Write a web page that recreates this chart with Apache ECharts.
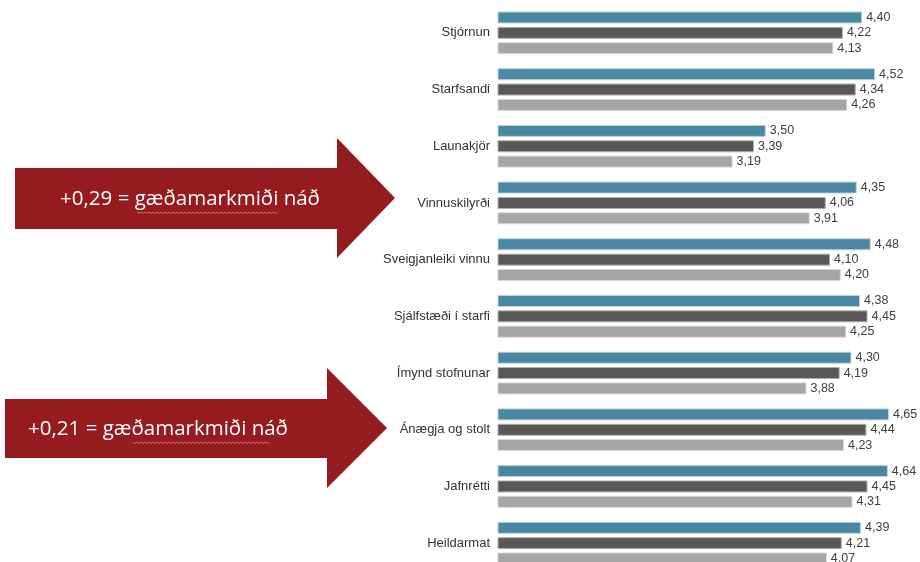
<!DOCTYPE html>
<html><head><meta charset="utf-8">
<script src="https://cdn.jsdelivr.net/npm/echarts@6/dist/echarts.min.js"></script>
<style>html,body{margin:0;padding:0;background:#fff}#c{width:920px;height:562px}</style>
</head><body><div id="c"></div>
<script>
var categories = ['Stjórnun','Starfsandi','Launakjör','Vinnuskilyrði','Sveigjanleiki vinnu','Sjálfstæði í starfi','Ímynd stofnunar','Ánægja og stolt','Jafnrétti','Heildarmat'];
var seriesA = [4.40,4.52,3.50,4.35,4.48,4.38,4.30,4.65,4.64,4.39];
var seriesB = [4.22,4.34,3.39,4.06,4.10,4.45,4.19,4.44,4.45,4.21];
var seriesC = [4.13,4.26,3.19,3.91,4.20,4.25,3.88,4.23,4.31,4.07];
var arrowTexts = ['+0,29 = gæðamarkmiði náð','+0,21 = gæðamarkmiði náð'];

var chart = echarts.init(document.getElementById('c'));
var lbl = {show:true,position:'right',distance:4,color:'#404040',fontSize:12.5,fontFamily:'Liberation Sans, Arial',
  formatter:function(p){return p.value.toFixed(2).replace('.',',');}};
function mk(name,data,color,border){
  return {name:name,type:'bar',data:data,barWidth:12,barGap:'28%',clip:true,
    itemStyle:{color:color,borderColor:border,borderWidth:1},label:lbl,silent:true};
}
function arrow(x0,yTop,yBot,hx,hTop,hBot,tip){
  return [[x0,yTop],[hx,yTop],[hx,hTop],[tip,(hTop+hBot)/2],[hx,hBot],[hx,yBot],[x0,yBot]];
}
function wavy(x1,x2,y){
  var pts=[];for(var x=x1,i=0;x<=x2;x+=2,i++){pts.push([x,y+(i%2?1.5:0)]);}return pts;
}
chart.setOption({
  animation:false,
  grid:{left:498,right:0,top:32.85,bottom:18.85,containLabel:false},
  xAxis:{type:'value',min:1,max:4.94,show:false},
  yAxis:{type:'category',data:categories,inverse:true,boundaryGap:false,
    axisLine:{show:false},axisTick:{show:false},splitLine:{show:false},
    axisLabel:{margin:8,color:'#333',fontSize:13,fontFamily:'Liberation Sans, Arial'}},
  series:[mk('A',seriesA,'#4A87A3','#bcd3de'),mk('B',seriesB,'#585858','#b0b0b0'),mk('C',seriesC,'#A5A5A5','#d6d6d6')],
  graphic:[
    {type:'polygon',shape:{points:arrow(15,168,229,337,138,258,395)},style:{fill:'#941B1E'},z:10},
    {type:'text',x:190,y:199,style:{text:arrowTexts[0],fill:'#fff',font:'20.5px "Open Sans", Lato, sans-serif',align:'center',verticalAlign:'middle'},z:11},
    {type:'polyline',shape:{points:wavy(137,278,212)},style:{stroke:'#d88',lineWidth:0.8,fill:null},z:11},
    {type:'polygon',shape:{points:arrow(5,399,458,327,368,488,387)},style:{fill:'#941B1E'},z:10},
    {type:'text',x:158,y:429,style:{text:arrowTexts[1],fill:'#fff',font:'20.5px "Open Sans", Lato, sans-serif',align:'center',verticalAlign:'middle'},z:11},
    {type:'polyline',shape:{points:wavy(133,270,442)},style:{stroke:'#d88',lineWidth:0.8,fill:null},z:11}
  ]
});
</script></body></html>
